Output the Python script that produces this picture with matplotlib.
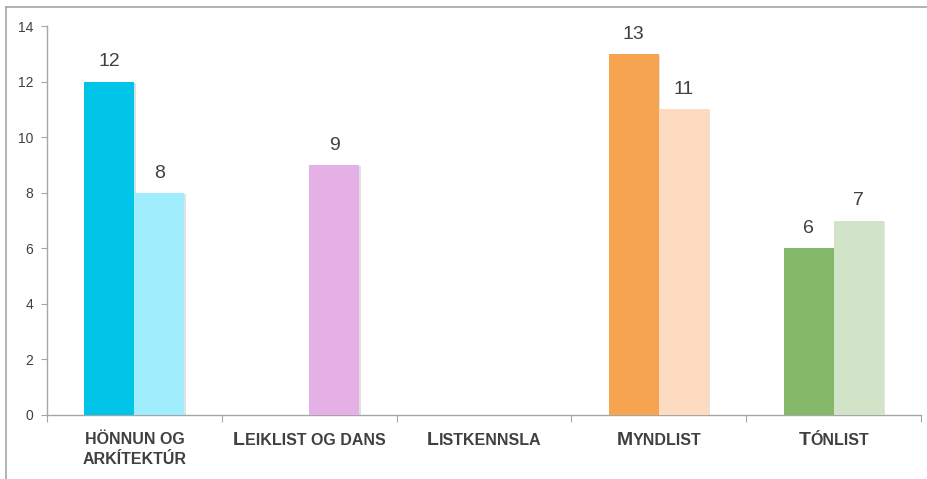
import numpy as np
import matplotlib
matplotlib.use('Agg')
import matplotlib.pyplot as plt
import matplotlib.patheffects as pe
from matplotlib.lines import Line2D
from matplotlib.offsetbox import TextArea, HPacker, VPacker, AnnotationBbox

plt.rcParams['font.family'] = ['Liberation Sans', 'DejaVu Sans']

# category labels written as small caps: list of lines, each a list of (text, big?)
cat_labels = [
    [[('HÖNNUN OG', False)], [('ARKÍTEKTÚR', False)]],
    [[('L', True), ('EIKLIST OG DANS', False)]],
    [[('L', True), ('ISTKENNSLA', False)]],
    [[('M', True), ('YNDLIST', False)]],
    [[('T', True), ('ÓNLIST', False)]],
]
values_first = [12, 0, 0, 13, 6]
values_second = [8, 9, 0, 11, 7]
colors_first = ['#00C4E8', '#B77FC4', '#999999', '#F7A450', '#84B96A']
colors_second = ['#9FEDFD', '#E5B0E5', '#CCCCCC', '#FCDBC0', '#D2E4C7']

text_col = '#404040'
axis_col = '#A6A6A6'

fig = plt.figure(figsize=(9.28, 4.79), dpi=100)
ax = fig.add_axes([47 / 928, 64 / 479, 874 / 928, 389 / 479])

x = np.arange(len(cat_labels))
w = 0.286
shadow = [pe.SimplePatchShadow(offset=(1.2, -0.8), alpha=0.15), pe.Normal()]
b1 = ax.bar(x - w / 2, values_first, w, color=colors_first, zorder=3)
b2 = ax.bar(x + w / 2, values_second, w, color=colors_second, zorder=3)
for bars, vals in [(b1, values_first), (b2, values_second)]:
    for b, v in zip(bars, vals):
        b.set_path_effects(shadow)
        if v > 0:
            ax.annotate(str(v), (b.get_x() + b.get_width() / 2, v), xytext=(0, 8),
                        textcoords='offset points', ha='center', va='bottom',
                        fontsize=14, color=text_col)

ax.set_xlim(-0.5, len(cat_labels) - 0.5)
ax.set_ylim(0, 14)
ax.set_yticks(range(0, 15, 2))
ax.set_xticks(np.arange(-0.5, len(cat_labels), 1.0))
ax.set_xticklabels([])
ax.tick_params(axis='y', labelsize=10, labelcolor=text_col, color=axis_col, length=4, pad=6)
ax.tick_params(axis='x', color=axis_col, length=5)
for s in ['top', 'right']:
    ax.spines[s].set_visible(False)
for s in ['left', 'bottom']:
    ax.spines[s].set_color(axis_col)
    ax.spines[s].set_linewidth(1.0)

# small caps category labels
for i, lines in enumerate(cat_labels):
    rows = []
    for line in lines:
        parts = [TextArea(t, textprops=dict(size=14 if big else 11.5, weight='bold',
                                            color=text_col))
                 for t, big in line]
        rows.append(HPacker(children=parts, align='baseline', pad=0, sep=0))
    box = VPacker(children=rows, align='center', pad=0, sep=4)
    ab = AnnotationBbox(box, (i, 0), xycoords=('data', 'axes fraction'),
                        xybox=(0, -12), boxcoords='offset points',
                        box_alignment=(0.5, 1), frameon=False)
    ax.add_artist(ab)

# outer frame (only top and left edges visible)
fig.add_artist(Line2D([6.5 / 928, 1], [1 - 6.5 / 479, 1 - 6.5 / 479], color=axis_col, lw=1.2))
fig.add_artist(Line2D([6.5 / 928, 6.5 / 928], [0, 1 - 6.5 / 479], color=axis_col, lw=1.2))

fig.savefig('out.png', dpi=100)
